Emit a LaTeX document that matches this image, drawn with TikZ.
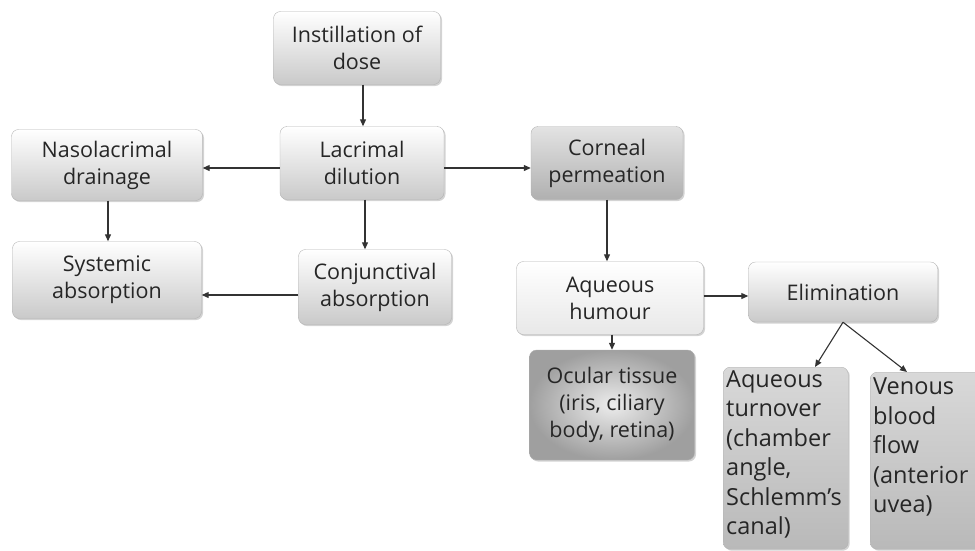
\documentclass[tikz,border=0pt]{standalone}
\usepackage{fontspec}
\setmainfont{Open Sans}
\usetikzlibrary{shadows,arrows.meta}
\begin{document}
\begin{tikzpicture}[x=1pt,y=-1pt,
  box/.style={draw=gray!60,rounded corners=7pt,align=center,inner sep=2pt,
    top color=white,bottom color=gray!42,
    drop shadow={shadow xshift=1.5pt,shadow yshift=-1.5pt,opacity=0.35},
    font=\fontsize{21.5}{27}\selectfont,text=black!85},
  lightbox/.style={box,top color=white,bottom color=gray!18},
  darkbox/.style={box,top color=gray!22,bottom color=gray!62},
  ocbox/.style={box,inner color=gray!15,outer color=gray!75},
  tallbox/.style={box,top color=gray!30,bottom color=gray!55,anchor=north west,inner sep=0pt},
  talltext/.style={align=left,anchor=north west,inner sep=0pt,
    font=\fontsize{23.5}{29.5}\selectfont,text=black!85},
  arr/.style={-{Triangle[length=7pt,width=6pt]},line width=1.1pt,draw=black!80}]
\useasboundingbox (0,0) rectangle (975,550);
\clip (0,0) rectangle (975,550);

\node[box,minimum width=167pt,minimum height=73pt] (inst) at (357,48) {Instillation of\\dose};
\node[box,minimum width=164pt,minimum height=73pt] (lac) at (362,163) {Lacrimal\\dilution};
\node[box,minimum width=191pt,minimum height=71pt] (naso) at (107,165) {Nasolacrimal\\drainage};
\node[darkbox,minimum width=152pt,minimum height=73pt] (corn) at (607,163) {Corneal\\permeation};
\node[box,minimum width=189pt,minimum height=77pt] (sys) at (107,280) {Systemic\\absorption};
\node[box,minimum width=153pt,minimum height=75pt] (conj) at (375,287) {Conjunctival\\absorption};
\node[lightbox,minimum width=187pt,minimum height=73pt] (aq) at (610,298) {Aqueous\\humour};
\node[box,minimum width=189pt,minimum height=60pt] (elim) at (843,292) {Elimination};
\node[ocbox,minimum width=165pt,minimum height=110pt] (ocu) at (612,405) {Ocular tissue\\(iris, ciliary\\body, retina)};
\node[tallbox,minimum width=125pt,minimum height=182pt] (turn) at (723,367) {};
\node[talltext] (turntext) at (726,370) {Aqueous\\turnover\\(chamber\\angle,\\Schlemm's\\canal)};
\node[tallbox,minimum width=120pt,minimum height=177pt] (ven) at (870,372) {};
\node[talltext] (ventext) at (873,378) {Venous\\blood\\flow\\(anterior\\uvea)};

\draw[arr] (inst.south -| 363,0) -- (lac.north -| 363,0);
\draw[arr] (lac.west |- 0,168) -- (naso.east |- 0,168);
\draw[arr] (lac.east |- 0,168) -- (corn.west |- 0,168);
\draw[arr] (lac.south -| 365,0) -- (conj.north -| 365,0);
\draw[arr] (naso.south -| 108,0) -- (sys.north -| 108,0);
\draw[arr] (conj.west |- 0,295) -- (sys.east |- 0,295);
\draw[arr] (corn.south -| 607,0) -- (aq.north -| 607,0);
\draw[arr] (aq.east |- 0,296) -- (elim.west |- 0,296);
\draw[arr] (aq.south -| 612,0) -- (ocu.north -| 612,0);
\coordinate (ebot) at (elim.south -| 843,0);
\draw[arr] (ebot) -- (turn.north -| 815,0);
\draw[arr] (ebot) -- (ven.north -| 907,0);
\end{tikzpicture}
\end{document}
